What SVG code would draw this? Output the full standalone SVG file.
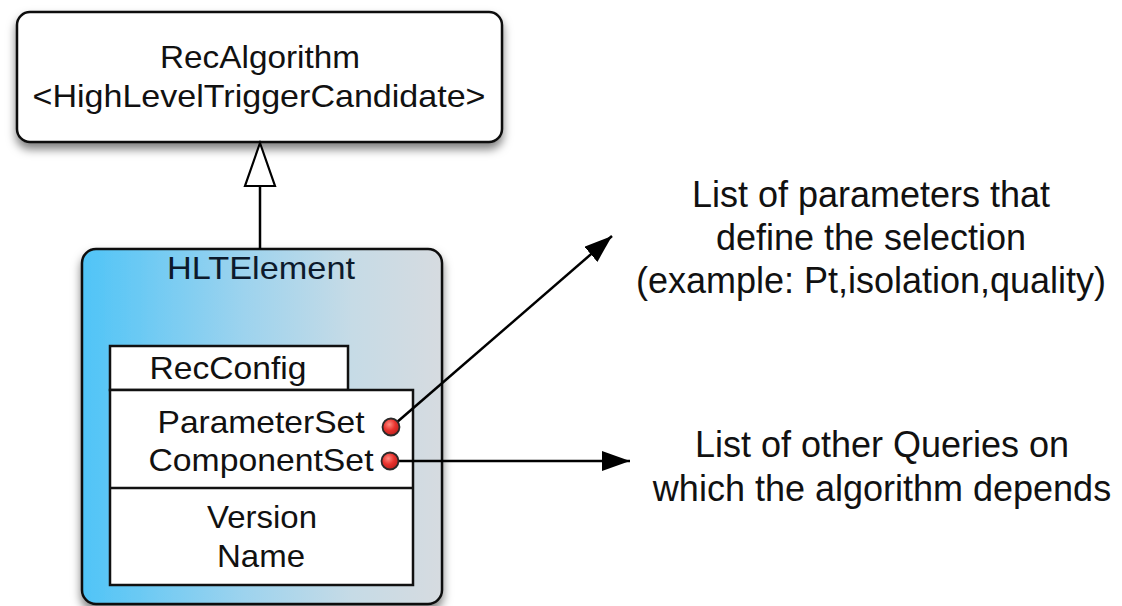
<svg xmlns="http://www.w3.org/2000/svg" width="1122" height="606" viewBox="0 0 1122 606">
  <style>
    .t { font-family: "Liberation Sans", Arial, sans-serif; fill: #111; text-anchor: middle; }
    .lt { font-size: 32px; }
    .rt { font-size: 36px; }
    .edge { stroke: #000; stroke-width: 2.5; fill: none; }
    .box { stroke: #111; stroke-width: 2.5; }
    .inner { fill: #fff; stroke: #111; stroke-width: 2.5; }
    .dot { fill: url(#dotFill); stroke: #2a2a2a; stroke-width: 1.8; }
  </style>
  <defs>
    <filter id="shadow" x="-20%" y="-20%" width="140%" height="150%">
      <feDropShadow dx="0" dy="6" stdDeviation="5" flood-color="#000" flood-opacity="0.5"/>
    </filter>
    <linearGradient id="hltFill" x1="0" y1="0" x2="1" y2="0">
      <stop offset="0" stop-color="#4fc4f7"/>
      <stop offset="0.45" stop-color="#9dd3ee"/>
      <stop offset="0.75" stop-color="#c6dbe6"/>
      <stop offset="1" stop-color="#d6dbe0"/>
    </linearGradient>
    <radialGradient id="dotFill" cx="0.4" cy="0.35" r="0.7">
      <stop offset="0" stop-color="#ff8a80"/>
      <stop offset="0.5" stop-color="#e8332e"/>
      <stop offset="1" stop-color="#b81d1a"/>
    </radialGradient>
    <marker id="solidHead" viewBox="0 0 28 20" refX="28" refY="10" markerWidth="28" markerHeight="20" markerUnits="userSpaceOnUse" orient="auto">
      <path d="M0,0 L28,10 L0,20 Z" fill="#000"/>
    </marker>
  </defs>

  <!-- RecAlgorithm class -->
  <g id="recAlgorithm">
    <rect class="box" x="17" y="12" width="485" height="130" rx="13" fill="#fff" filter="url(#shadow)"/>
    <text class="t lt" x="260" y="68" textLength="200" lengthAdjust="spacingAndGlyphs">RecAlgorithm</text>
    <text class="t lt" x="259" y="107" textLength="453" lengthAdjust="spacingAndGlyphs">&lt;HighLevelTriggerCandidate&gt;</text>
  </g>

  <!-- HLTElement with nested RecConfig -->
  <g id="hltElement">
    <rect class="box" x="82" y="249" width="360" height="355" rx="14" fill="url(#hltFill)" filter="url(#shadow)"/>
    <text class="t lt" x="261" y="279" textLength="188" lengthAdjust="spacingAndGlyphs" style="fill:#0c1a2c">HLTElement</text>
  </g>

  <g id="recConfig">
    <rect class="inner" x="110" y="346" width="238" height="44"/>
    <text class="t lt" x="228" y="379" textLength="157" lengthAdjust="spacingAndGlyphs">RecConfig</text>
    <rect class="inner" x="110" y="390" width="303" height="195"/>
    <line x1="110" y1="488" x2="413" y2="488" stroke="#111" stroke-width="2.5"/>
    <text class="t lt" x="261" y="433" textLength="207" lengthAdjust="spacingAndGlyphs">ParameterSet</text>
    <text class="t lt" x="261" y="471" textLength="225" lengthAdjust="spacingAndGlyphs">ComponentSet</text>
    <text class="t lt" x="262" y="528" textLength="110" lengthAdjust="spacingAndGlyphs">Version</text>
    <text class="t lt" x="261" y="567" textLength="88" lengthAdjust="spacingAndGlyphs">Name</text>
  </g>

  <!-- Connectors -->
  <g id="connectors">
    <!-- generalization: HLTElement to RecAlgorithm -->
    <line class="edge" x1="260" y1="249" x2="260" y2="186"/>
    <path d="M260,143 L275,186 L245,186 Z" fill="#fff" stroke="#000" stroke-width="2.2" stroke-linejoin="miter"/>
    <!-- ParameterSet note -->
    <line class="edge" x1="396" y1="423" x2="612" y2="236" marker-end="url(#solidHead)"/>
    <!-- ComponentSet note -->
    <line class="edge" x1="398" y1="461" x2="630" y2="461" marker-end="url(#solidHead)"/>
  </g>

  <g id="ports">
    <circle class="dot" cx="391" cy="427" r="8.5"/>
    <circle class="dot" cx="390" cy="461" r="8.5"/>
  </g>

  <!-- Notes -->
  <g id="noteParameters">
    <text class="t rt" x="871" y="207">List of parameters that</text>
    <text class="t rt" x="871" y="250">define the selection</text>
    <text class="t rt" x="871" y="293">(example: Pt,isolation,quality)</text>
  </g>
  <g id="noteComponents">
    <text class="t rt" x="882" y="457">List of other Queries on</text>
    <text class="t rt" x="882" y="501">which the algorithm depends</text>
  </g>
</svg>
